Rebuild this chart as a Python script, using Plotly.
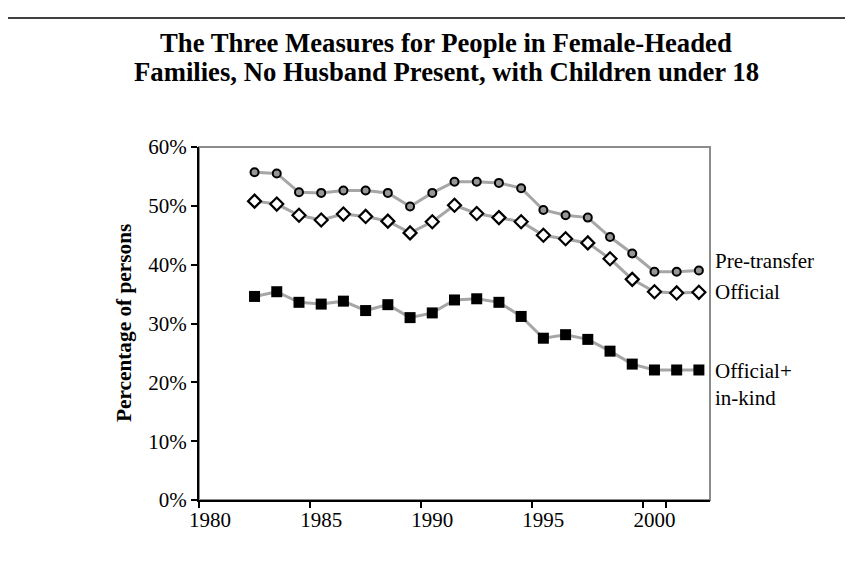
import plotly.graph_objects as go

# ---------------- data ----------------
years = [1982, 1983, 1984, 1985, 1986, 1987, 1988, 1989, 1990, 1991, 1992,
         1993, 1994, 1995, 1996, 1997, 1998, 1999, 2000, 2001, 2002]
pre_transfer = [55.7, 55.5, 52.3, 52.2, 52.6, 52.6, 52.2, 49.9, 52.2, 54.1, 54.1,
                53.9, 53.0, 49.3, 48.4, 48.0, 44.7, 41.9, 38.8, 38.8, 39.0]
official = [50.8, 50.3, 48.4, 47.6, 48.6, 48.2, 47.4, 45.4, 47.3, 50.1, 48.7,
            48.0, 47.3, 45.0, 44.4, 43.7, 41.0, 37.5, 35.4, 35.2, 35.3]
official_inkind = [34.6, 35.4, 33.6, 33.3, 33.8, 32.2, 33.2, 31.0, 31.8, 34.0, 34.2,
                   33.6, 31.2, 27.5, 28.1, 27.3, 25.3, 23.1, 22.1, 22.1, 22.1]
axis_years = list(range(1980, 2003))
tick_years = [1980, 1985, 1990, 1995, 2000]
y_ticks = [0, 10, 20, 30, 40, 50, 60]
series_labels = ["Pre-transfer", "Official", "Official+<br>in-kind"]
title_lines = ["The Three Measures for People in Female-Headed",
               "Families, No Husband Present, with Children under 18"]
y_title = "Percentage of persons"

# ---------------- layout geometry ----------------
W, H = 853, 561
ML, MR, MT, MB = 191, 151, 139, 69
PW, PH = W - ML - MR, H - MT - MB


def px_x(px):
    return (px - ML) / PW


def px_y(py):
    return (H - MB - py) / PH


FONT = "Liberation Serif, Times New Roman, serif"
LINE_GREY = "#a6a6a6"

axis_cats = [str(y) for y in axis_years]
cats = [str(y) for y in years]
fig = go.Figure()

fig.add_trace(go.Scatter(
    x=cats, y=pre_transfer, mode="lines+markers", name="Pre-transfer",
    line=dict(color=LINE_GREY, width=3),
    marker=dict(symbol="circle", size=8, color="#969696",
                line=dict(color="black", width=2)),
))
fig.add_trace(go.Scatter(
    x=cats, y=official, mode="lines+markers", name="Official",
    line=dict(color=LINE_GREY, width=3),
    marker=dict(symbol="diamond", size=10, color="white",
                line=dict(color="black", width=2.2)),
))
fig.add_trace(go.Scatter(
    x=cats, y=official_inkind, mode="lines+markers", name="Official+in-kind",
    line=dict(color=LINE_GREY, width=3),
    marker=dict(symbol="square", size=11, color="black",
                line=dict(color="black", width=0)),
))

annotations = []
# series labels at the right end of each line (category index of last year)
last_idx = axis_cats.index(cats[-1])
last = [pre_transfer[-1], official[-1], official_inkind[-1]]
shifts = [10, 0, 13]
for lab, v, s in zip(series_labels, last, shifts):
    annotations.append(dict(
        x=last_idx, y=v, xref="x", yref="y", text=lab, showarrow=False,
        xanchor="left", yanchor="top" if "<br>" in lab else "middle",
        xshift=14, yshift=s, align="left",
        font=dict(family=FONT, size=21, color="black"),
    ))

# title lines
for txt, cy in zip(title_lines, [35, 64]):
    annotations.append(dict(
        x=px_x(438), y=px_y(cy), xref="paper", yref="paper", text="<b>%s</b>" % txt,
        showarrow=False, xanchor="center", yanchor="middle",
        font=dict(family=FONT, size=26.7, color="black"),
    ))

# y-axis title
annotations.append(dict(
    x=px_x(116), y=px_y(315), xref="paper", yref="paper", text="<b>%s</b>" % y_title,
    showarrow=False, textangle=-90, xanchor="center", yanchor="middle",
    font=dict(family=FONT, size=21.3, color="black"),
))

shapes = [
    # grey plot frame (top/right)
    dict(type="rect", xref="paper", yref="paper", x0=0, x1=1, y0=0, y1=1,
         line=dict(color="#8c8c8c", width=2), layer="below"),
    # outer chart border top line
    dict(type="line", xref="paper", yref="paper", x0=px_x(0), x1=px_x(W),
         y0=px_y(10), y1=px_y(10), line=dict(color="black", width=1.5)),
]

fig.update_layout(
    width=W, height=H,
    margin=dict(l=ML, r=MR, t=MT, b=MB),
    paper_bgcolor="white", plot_bgcolor="white",
    showlegend=False,
    font=dict(family=FONT, size=21, color="black"),
    annotations=annotations,
    shapes=shapes,
    xaxis=dict(
        type="category", categoryorder="array",
        categoryarray=axis_cats,
        range=[-0.5, len(axis_years) - 0.5],
        tickmode="array", tickvals=[str(y) for y in tick_years],
        ticktext=[str(y) for y in tick_years],
        tickson="boundaries", tickangle=0,
        showgrid=False, zeroline=False,
        showline=True, linecolor="black", linewidth=2,
        ticks="outside", ticklen=6, tickwidth=1.5, tickcolor="black",
        tickfont=dict(family=FONT, size=21, color="black"),
    ),
    yaxis=dict(
        range=[0, 60], tickmode="array", tickvals=y_ticks,
        ticktext=["%d%%" % v for v in y_ticks],
        showgrid=False, zeroline=False,
        showline=True, linecolor="black", linewidth=2,
        ticks="outside", ticklen=6, tickwidth=1.5, tickcolor="black",
        tickfont=dict(family=FONT, size=21, color="black"),
    ),
)

fig.write_html("out.html")
